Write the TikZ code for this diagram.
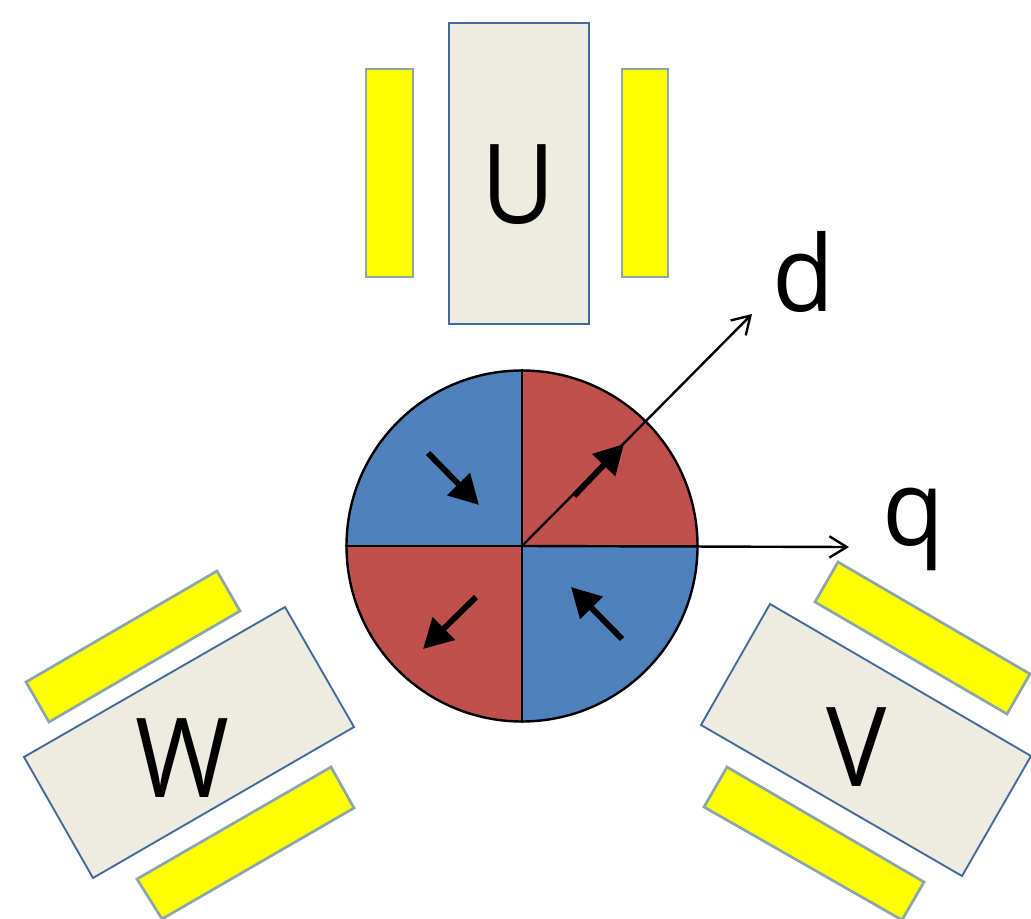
\documentclass[tikz,border=0pt]{standalone}
\usepackage{graphicx}
\usepackage{fontspec}
\setmainfont{Open Sans}
\usetikzlibrary{arrows.meta}
\definecolor{rotorred}{HTML}{C0504D}
\definecolor{rotorblue}{HTML}{4F81BD}
\definecolor{coretan}{HTML}{EEECE1}
\definecolor{coreedge}{HTML}{416A9B}
\definecolor{coiledge}{HTML}{8BA5AE}
\definecolor{coilfill}{RGB}{255,255,0}
\newcommand{\capletter}[1]{\scalebox{1}[1.09]{#1}}
\newcommand{\lowletter}[1]{\scalebox{1}[1.04]{#1}}
\tikzset{
  core/.style={fill=coretan,draw=coreedge,line width=1.4pt,line join=miter},
  coil/.style={fill=coilfill,draw=coiledge,line width=2pt,line join=miter},
  axisline/.style={draw=black,line width=1.8pt,-{Straight Barb[length=13pt,width=16pt,line width=1.8pt]}},
  magnet/.style={draw=black,line width=4.4pt,-{Triangle[length=22pt,width=23pt]},shorten >=0pt},
  divider/.style={draw=black,line width=1.8pt},
  lettering/.style={anchor=base,inner sep=0pt,font=\fontsize{76pt}{76pt}\selectfont,text=black}
}
\begin{document}
\begin{tikzpicture}[x=0.75pt,y=-0.75pt]
\useasboundingbox (0,0) rectangle (1031,919);
\clip (0,0) rectangle (1031,919);
\fill[white] (0,0) rectangle (1031,919);

% U stator
\draw[core] (449,23) rectangle (589,324);
\draw[coil] (366,69) rectangle (413,277);
\draw[coil] (622,69) rectangle (668,277);

% W stator
\draw[core] (285,607) -- (354,727) -- (93,878) -- (24,757) -- cycle;
\draw[coil] (217,571) -- (240,611) -- (49,722) -- (26,682) -- cycle;
\draw[coil] (331,767) -- (354,808) -- (162,919) -- (137,879) -- cycle;

% V stator
\draw[core] (770,604) -- (1031,756) -- (962,876) -- (701,725) -- cycle;
\draw[coil] (838,562) -- (1030,674) -- (1007,714) -- (815,602) -- cycle;
\draw[coil] (727,767) -- (924,882) -- (902,920) -- (704,807) -- cycle;

% Rotor
\coordinate (c) at (522,546);
\begin{scope}
  \clip (c) circle[radius=175.5];
  \fill[rotorblue] (c) rectangle (340,360);
  \fill[rotorred]  (c) rectangle (710,360);
  \fill[rotorred]  (c) rectangle (340,730);
  \fill[rotorblue] (c) rectangle (710,730);
\end{scope}
\node[circle,draw=black,line width=1.8pt,minimum size=263.25pt,inner sep=0pt] (rotor) at (c) {};
\draw[divider] (rotor.north) -- (rotor.south);
\draw[divider] (rotor.west) -- (rotor.east);

% Magnet arrows
\coordinate (m1a) at (428,453); \coordinate (m1b) at (479,505);
\coordinate (m2a) at (574,496); \coordinate (m2b) at (624,444);
\coordinate (m3a) at (476,597); \coordinate (m3b) at (423,649);
\coordinate (m4a) at (622,639); \coordinate (m4b) at (571,587);
\draw[magnet] (m1a) -- (m1b);
\draw[magnet] (m2a) -- (m2b);
\draw[magnet] (m3a) -- (m3b);
\draw[magnet] (m4a) -- (m4b);

% Axes
\coordinate (dtip) at (752,314);
\coordinate (qtip) at (849,547);
\draw[axisline] (c) -- (dtip);
\draw[axisline] (c) -- (qtip);

% Labels
\node[lettering] (labU) at (518,224) {\capletter{U}};
\node[lettering] (labW) at (182,797) {\capletter{W}};
\node[lettering] (labV) at (857,786) {\capletter{V}};
\node[lettering] (labd) at (804,312) {\lowletter{d}};
\node[lettering] (labq) at (914,545) {\lowletter{q}};
\end{tikzpicture}
\end{document}
